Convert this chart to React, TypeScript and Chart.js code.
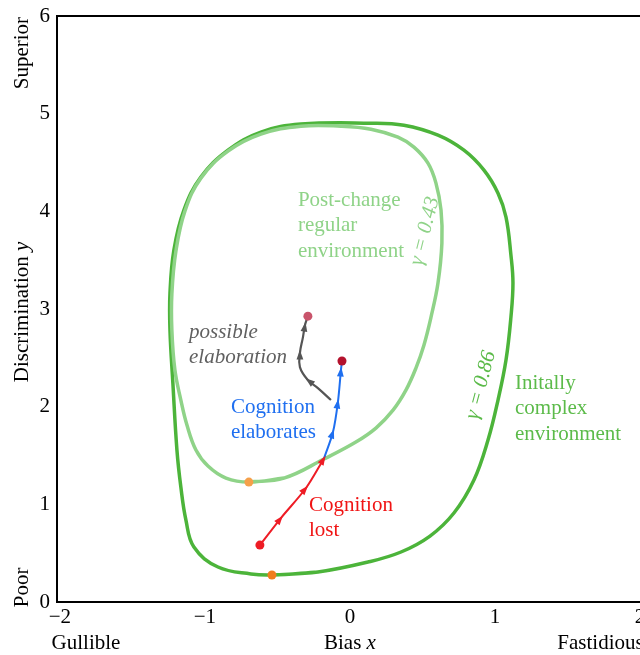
import React, { useEffect, useRef } from 'react';
import { Chart, registerables } from 'chart.js';

Chart.register(...registerables);

// ---- axis ranges & ticks ----
const X_MIN = -2.02;
const X_MAX = 2;
const Y_MIN = 0;
const Y_MAX = 6;
const xTickValues = [-2, -1, 0, 1, 2];
const yTickValues = [0, 1, 2, 3, 4, 5, 6];

// ---- γ = 0.86 curve (initially complex environment) ----
const outerX = [-0.538, -0.221, 0.124, 0.352, 0.552, 0.717, 0.855, 0.952, 1.021, 1.076, 1.110, 1.124, 1.110, 1.076, 1.021, 0.924, 0.786, 0.607, 0.372, 0.145, -0.338, -0.614, -0.841, -1.028, -1.145, -1.214, -1.241, -1.241, -1.221, -1.193, -1.166, -1.131, -1.076, -0.910, -0.683];
const outerY = [0.276, 0.307, 0.409, 0.512, 0.675, 0.911, 1.249, 1.658, 2.068, 2.477, 2.917, 3.265, 3.552, 3.941, 4.186, 4.422, 4.626, 4.780, 4.882, 4.903, 4.893, 4.811, 4.626, 4.350, 4.012, 3.603, 3.163, 2.784, 2.242, 1.556, 1.177, 0.839, 0.563, 0.358, 0.287];

// ---- γ = 0.43 curve (post-change regular environment) ----
const innerX = [-0.697, -0.455, -0.179, 0.041, 0.179, 0.297, 0.386, 0.455, 0.510, 0.559, 0.607, 0.634, 0.628, 0.593, 0.538, 0.441, 0.331, 0.145, -0.062, -0.338, -0.614, -0.841, -1.028, -1.138, -1.200, -1.228, -1.228, -1.207, -1.166, -1.124, -1.062, -0.979, -0.855];
const innerY = [1.228, 1.269, 1.464, 1.638, 1.781, 1.965, 2.170, 2.395, 2.630, 2.917, 3.265, 3.674, 4.012, 4.289, 4.493, 4.657, 4.759, 4.841, 4.872, 4.872, 4.790, 4.616, 4.340, 4.002, 3.593, 3.153, 2.784, 2.375, 2.068, 1.812, 1.556, 1.392, 1.269];

// ---- trajectories ----
const lostX = [-0.621, -0.476, -0.303, -0.179];
const lostY = [0.583, 0.860, 1.167, 1.470];
const lostArrows = [1, 2, 3];

const elabX = [-0.179, -0.117, -0.083, -0.062, -0.055];
const elabY = [1.470, 1.740, 2.047, 2.375, 2.467];
const elabArrows = [1, 2, 3];

const possX = [-0.131, -0.221, -0.290, -0.345, -0.345, -0.324, -0.310, -0.290];
const possY = [2.068, 2.190, 2.272, 2.405, 2.549, 2.712, 2.835, 2.927];
const possArrows = [2, 4, 6];

// ---- marked states ----
const dotX = [-0.538, -0.697, -0.621, -0.055, -0.290];
const dotY = [0.276, 1.228, 0.583, 2.467, 2.927];
const dotColors = ['#f07d1e', '#f5a04a', '#ee1c25', '#b4122d', '#c9546b'];

const SERIF = '"Liberation Serif", "Times New Roman", serif';
const FS = 21;

const toPts = (xs: number[], ys: number[]) => xs.map((x, i) => ({ x, y: ys[i] }));
const closed = (xs: number[], ys: number[]) => {
  const p = toPts(xs, ys);
  return [...p, p[0], p[1]];
};

type Part = { text: string; italic?: boolean };

function drawParts(ctx: CanvasRenderingContext2D, parts: Part[], x: number, y: number, align: 'left' | 'center', color: string, rot = 0, size = FS) {
  ctx.save();
  ctx.translate(x, y);
  ctx.rotate(rot);
  ctx.fillStyle = color;
  ctx.textBaseline = 'middle';
  ctx.textAlign = 'left';
  const fonts = parts.map(p => `${p.italic ? 'italic ' : ''}${size}px ${SERIF}`);
  const widths = parts.map((p, i) => { ctx.font = fonts[i]; return ctx.measureText(p.text).width; });
  const total = widths.reduce((a, b) => a + b, 0);
  let cx = align === 'center' ? -total / 2 : 0;
  parts.forEach((p, i) => { ctx.font = fonts[i]; ctx.fillText(p.text, cx, 0); cx += widths[i]; });
  ctx.restore();
}

// annotation texts, anchored in data coordinates
const dataLabels: { lines: Part[][]; x: number; y: number; color: string; align: 'left' | 'center'; rot?: number }[] = [
  { lines: [[{ text: 'Post-change' }], [{ text: 'regular' }], [{ text: 'environment' }]], x: -0.359, y: 4.115, color: '#8fd388', align: 'left' },
  { lines: [[{ text: 'Initally' }], [{ text: 'complex' }], [{ text: 'environment' }]], x: 1.138, y: 2.242, color: '#5cbb4a', align: 'left' },
  { lines: [[{ text: 'possible', italic: true }], [{ text: 'elaboration', italic: true }]], x: -1.110, y: 2.764, color: '#606060', align: 'left' },
  { lines: [[{ text: 'Cognition' }], [{ text: 'elaborates' }]], x: -0.821, y: 1.996, color: '#1f6ff0', align: 'left' },
  { lines: [[{ text: 'Cognition' }], [{ text: 'lost' }]], x: -0.283, y: 0.993, color: '#f01414', align: 'left' },
  { lines: [[{ text: 'γ = 0.43', italic: true }]], x: 0.517, y: 3.797, color: '#8fd388', align: 'center', rot: -76 },
  { lines: [[{ text: 'γ = 0.86', italic: true }]], x: 0.903, y: 2.221, color: '#5cbb4a', align: 'center', rot: -75 },
];

const arrowSets = [
  { xs: lostX, ys: lostY, at: lostArrows, color: '#ee1c25' },
  { xs: elabX, ys: elabY, at: elabArrows, color: '#1f6ff0' },
  { xs: possX, ys: possY, at: possArrows, color: '#555555' },
];

export default function App() {
  const ref = useRef<HTMLCanvasElement | null>(null);

  useEffect(() => {
    document.body.style.margin = '0';
    document.body.style.overflow = 'hidden';
    const canvas = ref.current!;

    const framePlugin = {
      id: 'frame',
      afterDraw(chart: any) {
        const { ctx, chartArea: a } = chart;
        ctx.save();
        ctx.strokeStyle = '#000';
        ctx.lineWidth = 2;
        ctx.beginPath();
        ctx.moveTo(a.right + 2, a.top);
        ctx.lineTo(a.left, a.top);
        ctx.lineTo(a.left, a.bottom);
        ctx.lineTo(a.right + 2, a.bottom);
        ctx.stroke();
        ctx.restore();
      },
    };

    const arrowPlugin = {
      id: 'arrows',
      afterDatasetsDraw(chart: any) {
        const { ctx } = chart;
        const xs = chart.scales.x, ys = chart.scales.y;
        arrowSets.forEach(set => {
          set.at.forEach(i => {
            const px = xs.getPixelForValue(set.xs[i]);
            const py = ys.getPixelForValue(set.ys[i]);
            const qx = xs.getPixelForValue(set.xs[i - 1]);
            const qy = ys.getPixelForValue(set.ys[i - 1]);
            const ang = Math.atan2(py - qy, px - qx);
            ctx.save();
            ctx.translate(px, py);
            ctx.rotate(ang);
            ctx.fillStyle = set.color;
            ctx.beginPath();
            ctx.moveTo(3, 0);
            ctx.lineTo(-6.5, -3.4);
            ctx.lineTo(-6.5, 3.4);
            ctx.closePath();
            ctx.fill();
            ctx.restore();
          });
        });
      },
    };

    const textPlugin = {
      id: 'texts',
      afterDraw(chart: any) {
        const { ctx, chartArea: a } = chart;
        const xs = chart.scales.x, ys = chart.scales.y;
        dataLabels.forEach(l => {
          const x0 = xs.getPixelForValue(l.x);
          const y0 = ys.getPixelForValue(l.y);
          const rot = ((l.rot ?? 0) * Math.PI) / 180;
          l.lines.forEach((parts, k) => drawParts(ctx, parts, x0, y0 + k * 25.5, l.align, l.color, rot));
        });
        // axis titles
        const labY = a.bottom + 41;
        drawParts(ctx, [{ text: 'Gullible' }], xs.getPixelForValue(-1.82), labY, 'center', '#000');
        drawParts(ctx, [{ text: 'Bias ' }, { text: 'x', italic: true }], xs.getPixelForValue(0), labY, 'center', '#000');
        drawParts(ctx, [{ text: 'Fastidious' }], xs.getPixelForValue(1.43), labY, 'left', '#000');
        const ax = 22;
        drawParts(ctx, [{ text: 'Superior' }], ax, ys.getPixelForValue(5.62), 'center', '#000', -Math.PI / 2);
        drawParts(ctx, [{ text: 'Discrimination ' }, { text: 'y', italic: true }], ax, ys.getPixelForValue(2.97), 'center', '#000', -Math.PI / 2);
        drawParts(ctx, [{ text: 'Poor' }], ax, ys.getPixelForValue(0.15), 'center', '#000', -Math.PI / 2);
      },
    };

    const fmt = (v: number) => (v < 0 ? '\u2212' + Math.abs(v) : String(v));

    const chart = new Chart(canvas, {
      type: 'scatter',
      data: {
        datasets: [
          { label: 'states', data: toPts(dotX, dotY), pointRadius: 4.5, pointBackgroundColor: dotColors, pointBorderWidth: 0, showLine: false, order: 0 } as any,
          { label: 'lost', data: toPts(lostX, lostY), showLine: true, borderColor: '#ee1c25', borderWidth: 2, pointRadius: 0, tension: 0.3, order: 1 },
          { label: 'elaborates', data: toPts(elabX, elabY), showLine: true, borderColor: '#1f6ff0', borderWidth: 2, pointRadius: 0, tension: 0.3, order: 2 },
          { label: 'possible', data: toPts(possX, possY), showLine: true, borderColor: '#555555', borderWidth: 2.2, pointRadius: 0, tension: 0.4, order: 3 },
          { label: 'gamma043', data: closed(innerX, innerY), showLine: true, borderColor: '#8fd388', borderWidth: 3.5, pointRadius: 0, tension: 0.4, order: 4 },
          { label: 'gamma086', data: closed(outerX, outerY), showLine: true, borderColor: '#4cb43a', borderWidth: 3.5, pointRadius: 0, tension: 0.4, order: 5 },
        ],
      },
      options: {
        responsive: false,
        animation: false,
        events: [],
        layout: { padding: { top: 16, right: 10, left: 0, bottom: 0 } },
        plugins: { legend: { display: false }, tooltip: { enabled: false } },
        scales: {
          x: {
            type: 'linear', min: X_MIN, max: X_MAX,
            afterBuildTicks: (s: any) => { s.ticks = xTickValues.map(v => ({ value: v })); },
            ticks: { color: '#000', font: { family: SERIF, size: FS }, padding: 3, maxRotation: 0, callback: (v: any) => fmt(Number(v)) },
            grid: { display: false, drawTicks: false },
            border: { display: false },
            afterFit: (s: any) => { s.height = 53; s.paddingLeft = 0; s.paddingRight = 0; },
          },
          y: {
            type: 'linear', min: Y_MIN, max: Y_MAX,
            afterBuildTicks: (s: any) => { s.ticks = yTickValues.map(v => ({ value: v })); },
            ticks: { color: '#000', font: { family: SERIF, size: FS }, padding: 7, callback: (v: any) => fmt(Number(v)) },
            grid: { display: false, drawTicks: false },
            border: { display: false },
            afterFit: (s: any) => { s.width = 57; s.paddingTop = 0; s.paddingBottom = 0; },
          },
        },
      } as any,
      plugins: [arrowPlugin, framePlugin, textPlugin],
    });
    return () => chart.destroy();
  }, []);

  return (
    <div style={{ width: 640, height: 655, overflow: 'hidden', background: '#fff' }}>
      <canvas ref={ref} width={650} height={655} style={{ display: 'block' }} />
    </div>
  );
}
